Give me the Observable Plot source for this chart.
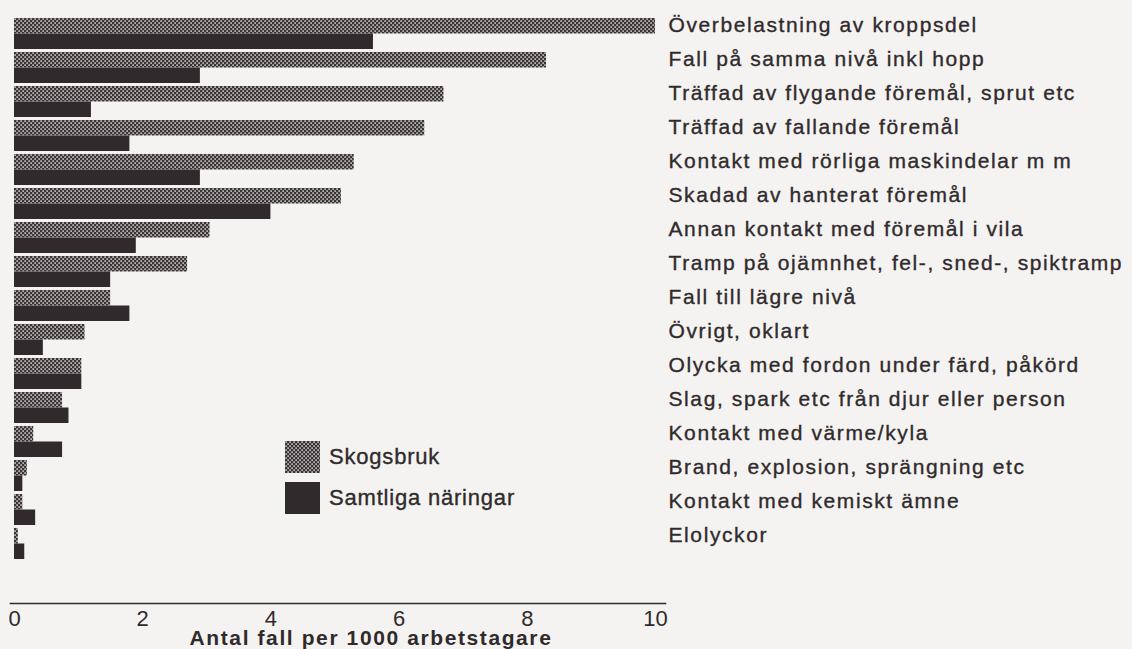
<!DOCTYPE html>
<html><head><meta charset="utf-8">
<script src="https://cdn.jsdelivr.net/npm/d3@7"></script>
<script src="https://cdn.jsdelivr.net/npm/@observablehq/plot@0.6"></script>
<style>
body{margin:0;background:#f4f3f1;}
#wrap{position:relative;width:1132px;height:649px;font-family:"Liberation Sans",Arial,sans-serif;color:#2f2a2c;overflow:hidden;}
#wrap svg.chart{position:absolute;left:0;top:0;}
.chart g[aria-label="y-axis tick label"]{font-size:21px;}
.chart g[aria-label="y-axis tick label"] text{letter-spacing:1.6px;stroke:#302a2c;stroke-width:0.35px;}
.chart g[aria-label="x-axis tick label"]{font-size:22px;}
.chart g[aria-label="text"]{font-size:21px;}
.chart g[aria-label="text"] text{letter-spacing:1.6px;}
.legend{position:absolute;left:285px;top:436px;}
.legend .item{display:flex;align-items:center;height:41px;}
.legend .item svg{margin-right:9px;}
.legend .item span{font-size:22px;letter-spacing:0.8px;color:#2f2a2c;-webkit-text-stroke:0.35px #302a2c;}
</style></head><body><div id="wrap"></div>
<script>
const categories = [
  "Överbelastning av kroppsdel",
  "Fall på samma nivå inkl hopp",
  "Träffad av flygande föremål, sprut etc",
  "Träffad av fallande föremål",
  "Kontakt med rörliga maskindelar m m",
  "Skadad av hanterat föremål",
  "Annan kontakt med föremål i vila",
  "Tramp på ojämnhet, fel-, sned-, spiktramp",
  "Fall till lägre nivå",
  "Övrigt, oklart",
  "Olycka med fordon under färd, påkörd",
  "Slag, spark etc från djur eller person",
  "Kontakt med värme/kyla",
  "Brand, explosion, sprängning etc",
  "Kontakt med kemiskt ämne",
  "Elolyckor"
];
const skogsbruk = [10.0, 8.3, 6.7, 6.4, 5.3, 5.1, 3.05, 2.7, 1.5, 1.1, 1.05, 0.75, 0.3, 0.2, 0.13, 0.06];
const samtliga  = [5.6, 2.9, 1.2, 1.8, 2.9, 4.0, 1.9, 1.5, 1.8, 0.45, 1.05, 0.85, 0.75, 0.13, 0.33, 0.16];
const seriesNames = ["Skogsbruk", "Samtliga näringar"];
const xTicks = [0, 2, 4, 6, 8, 10];
const xLabel = "Antal fall per 1000 arbetstagare";

const ink = "#302a2c";
const rows = categories.map((c, i) => ({category: c, skogsbruk: skogsbruk[i], samtliga: samtliga[i]}));

const plot = Plot.plot({
  width: 1132,
  height: 649,
  marginLeft: 14,
  marginRight: 477,
  marginTop: 12,
  marginBottom: 46,
  className: "chart",
  style: {background: "transparent", fontFamily: "'Liberation Sans', Arial, sans-serif", color: ink, overflow: "visible"},
  x: {domain: [0, 10]},
  y: {domain: categories, range: [12.7, 564.2], paddingInner: 0.1, paddingOuter: 0},
  marks: [
    Plot.barX(rows, {y: "category", x: "skogsbruk", fill: "url(#skogPattern)", insetBottom: 15.5}),
    Plot.barX(rows, {y: "category", x: "samtliga", fill: ink, insetTop: 15.5}),
    Plot.axisY({anchor: "right", tickSize: 0, tickPadding: 13, dy: -9, label: null, fill: ink}),
    Plot.axisX({anchor: "bottom", ticks: xTicks, tickSize: 0, tickPadding: 7, label: null, fill: ink}),
    Plot.frame({anchor: "bottom", stroke: ink, strokeWidth: 1.6, insetLeft: -4, insetRight: -10}),
    Plot.text([xLabel], {frameAnchor: "bottom", lineAnchor: "middle", dy: 35, dx: 36, fontWeight: "bold", fill: ink})
  ]
});

// pattern for the dithered Skogsbruk fill
const ns = "http://www.w3.org/2000/svg";
function makePattern(svg, id) {
  const defs = document.createElementNS(ns, "defs");
  const pat = document.createElementNS(ns, "pattern");
  pat.setAttribute("id", id);
  pat.setAttribute("patternUnits", "userSpaceOnUse");
  pat.setAttribute("width", 4);
  pat.setAttribute("height", 4);
  const bg = document.createElementNS(ns, "rect");
  bg.setAttribute("width", 4); bg.setAttribute("height", 4); bg.setAttribute("fill", "#3a3436");
  pat.appendChild(bg);
  [[0.3, 0.3], [2.3, 2.3]].forEach(([x, y]) => {
    const d = document.createElementNS(ns, "rect");
    d.setAttribute("x", x); d.setAttribute("y", y);
    d.setAttribute("width", 1.6); d.setAttribute("height", 1.6);
    d.setAttribute("fill", "#cfcbca");
    pat.appendChild(d);
  });
  defs.appendChild(pat);
  svg.insertBefore(defs, svg.firstChild);
}
makePattern(plot, "skogPattern");

const wrap = document.getElementById("wrap");
wrap.appendChild(plot);

// legend
const legend = document.createElement("div");
legend.className = "legend";
seriesNames.forEach((name, i) => {
  const item = document.createElement("div");
  item.className = "item";
  const sw = document.createElementNS(ns, "svg");
  sw.setAttribute("width", 35); sw.setAttribute("height", 32);
  if (i === 0) makePattern(sw, "skogPatternLegend");
  const r = document.createElementNS(ns, "rect");
  r.setAttribute("width", 35); r.setAttribute("height", 32);
  r.setAttribute("fill", i === 0 ? "url(#skogPatternLegend)" : ink);
  sw.appendChild(r);
  const s = document.createElement("span");
  s.textContent = name;
  item.appendChild(sw); item.appendChild(s);
  legend.appendChild(item);
});
wrap.appendChild(legend);
</script>
</body></html>
